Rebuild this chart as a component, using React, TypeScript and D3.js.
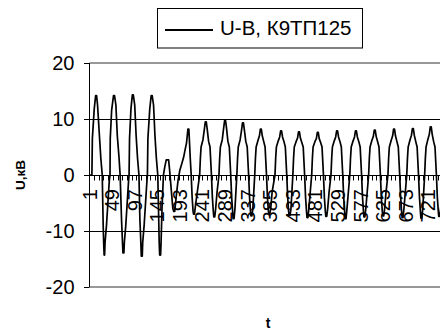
import React from "react";
import * as d3 from "d3";

// ---- data ----
const seriesName = "U-B, К9ТП125";
const yTitle = "U,кВ";
const xTitle = "t";
const nCategories = 760;
const yTicks = [20, 10, 0, -10, -20];
const xLabelCats = [1, 49, 97, 145, 193, 241, 289, 337, 385, 433, 481, 529, 577, 625, 673, 721];
const tickEvery = 10;

// key points of the waveform: [sample number, U in kV]
const waveform: [number, number][] = [
  [1, 0], [6, 0], [7, 6.5], [11, 11.8], [14, 14.2], [16, 14.2], [18, 12.5], [22, 7], [25, 3], [28, 0],
  [30, -9], [31, -12], [32, -14.3], [33, -14.3], [34, -12], [37, -9], [40, -5], [43, -1], [44.5, 0],
  [45, 6.5], [48, 11.6], [52, 14.2], [54, 14.2], [57, 12.5], [60, 7], [63.5, 3.3], [66, 0],
  [69, -8], [71, -12], [72, -13.9], [74, -13.9], [75, -12], [78, -9], [81, -5], [84, -1], [85, 0],
  [86, 6.5], [89, 11.8], [92, 14.3], [94, 14.3], [97, 12.5], [100, 7], [103, 3], [106, 0],
  [108, -8], [110, -12], [111, -14.5], [113, -14.5], [114, -12], [117, -9], [120, -5], [123, -1], [124, 0],
  [125, 6.5], [129, 11.8], [132, 14.2], [134, 14.2], [137, 12.5], [140, 7], [143, 3], [146, 0],
  [148, -8], [149, -12], [150, -14.3], [152, -14.3], [153, -12], [155, -6], [158, 0],
  [161, 1.5], [164, 2.7], [169, 2.7], [171, 1], [173, -1], [176, -4], [178, -6], [180, -6.5], [182, -6.5],
  [185, -4], [189, -1], [193, 0.9], [197, 2], [201, 3.2], [204, 4.5], [207, 5.7], [209, 7.3], [210, 8.2],
  [212, 8.2], [213, 6.5], [215, 3], [217, 0], [219, -4], [221, -6.5], [222, -7], [224, -7], [226, -5.5], [230, -3], [235, 0],
  [236.5, 3], [238, 5], [242, 6.3], [245, 8.2], [247, 9.5], [249, 9.5], [251, 8.2], [254, 6], [257, 5], [258.5, 2.5], [260, 0],
  [262, -4], [264, -6.5], [265, -7.5], [267, -7.5], [269, -6], [272, -3], [276, 0],
  [277.5, 3], [279, 5], [283, 6.3], [286, 8.4], [288, 9.7], [290, 9.7], [292, 8.4], [295, 6], [298, 5], [299.5, 2.5], [301, 0],
  [303, -4], [305, -6.5], [306, -7.8], [308, -7.8], [310, -6], [312, -3], [314, 0],
  [315.5, 3], [317, 5], [321, 6.3], [324, 8], [326, 9.3], [328, 9.3], [330, 8], [333, 6], [336, 5], [337.5, 2.5], [339, 0],
  [341, -4], [343, -6.5], [344, -7.3], [346, -7.3], [348, -6], [350, -3], [352, 0],
  [353.5, 3], [355, 5], [359, 6.2], [362, 7], [364, 8.2], [366, 8.2], [368, 7], [371, 6], [374, 5], [375.5, 2.5], [377, 0],
  [379, -4], [381, -6.5], [382, -7], [384, -7], [386, -6], [389, -3], [395, 0],
  [396.5, 3], [398, 5], [402, 6.1], [405, 6.8], [407, 7.9], [409, 7.9], [411, 6.8], [414, 6], [417, 5], [418.5, 2.5], [420, 0],
  [422, -4], [424, -6.5], [425, -7.2], [427, -7.2], [429, -6], [431, -3], [433, 0],
  [434.5, 3], [436, 5], [440, 6], [443, 6.6], [445, 7.7], [447, 7.7], [449, 6.6], [452, 5.8], [455, 5], [456.5, 2.5], [458, 0],
  [460, -4], [462, -6.5], [463, -7.6], [465, -7.6], [467, -6], [470, -3], [473, 0],
  [474.5, 3], [476, 5], [480, 6], [483, 6.5], [485, 7.6], [487, 7.6], [489, 6.5], [492, 5.8], [495, 5], [496.5, 2.5], [498, 0],
  [500, -4], [502, -6.5], [503, -7.4], [505, -7.4], [507, -6], [510, -3], [514, 0],
  [515.5, 3], [517, 5], [521, 6.1], [524, 6.8], [526, 7.9], [528, 7.9], [530, 6.8], [533, 6], [536, 5], [537.5, 2.5], [539, 0],
  [541, -4], [543, -6.5], [544, -7.8], [546, -7.8], [548, -6], [551, -3], [554, 0],
  [555.5, 3], [557, 5], [561, 6.1], [564, 6.8], [566, 7.9], [568, 7.9], [570, 6.8], [573, 6], [576, 5], [577.5, 2.5], [579, 0],
  [581, -4], [583, -6.5], [584, -7.5], [586, -7.5], [588, -6], [591, -3], [594, 0],
  [595.5, 3], [597, 5], [601, 6.2], [604, 6.9], [606, 8], [608, 8], [610, 6.9], [613, 6], [616, 5], [617.5, 2.5], [619, 0],
  [621, -4], [623, -6.5], [624, -7.3], [626, -7.3], [628, -6], [631, -3], [635, 0],
  [636.5, 3], [638, 5], [642, 6.2], [645, 7], [647, 8.2], [649, 8.2], [651, 7], [654, 6], [657, 5], [658.5, 2.5], [660, 0],
  [662, -4], [664, -6.5], [665, -7.6], [667, -7.6], [669, -6], [672, -3], [675, 0],
  [676.5, 3], [678, 5], [682, 6.3], [685, 7.1], [687, 8.3], [689, 8.3], [691, 7.1], [694, 6], [697, 5], [698.5, 2.5], [700, 0],
  [702, -4], [704, -6.5], [705, -7.7], [707, -7.7], [709, -6], [711, -3], [713, 0],
  [714.5, 3], [716, 5], [720, 6.4], [723, 7.3], [725, 8.6], [727, 8.6], [729, 7.3], [732, 6], [735, 5], [736.5, 2.5], [738, 0],
  [740, -4], [742, -6.5], [743, -7.4], [745, -7.4], [747, -6], [750, -3], [753, 0], [754.5, 3], [756, 5], [760, 6.3],
];

const W = 440;
const H = 332;
const FONT = "'Liberation Sans', Arial, Helvetica, sans-serif";

export default function App() {
  const plotLeft = 89.3;
  const plotRight = 447;
  const x = d3.scaleLinear().domain([0.5, nCategories + 0.5]).range([plotLeft, plotRight]);
  const y = d3.scaleLinear().domain([-20, 20]).range([287, 63]);
  const axisX = 89.5;

  const line = d3
    .line<[number, number]>()
    .x((d) => x(d[0]))
    .y((d) => y(d[1]));

  const zeroY = Math.round(y(0)) + 0.5;
  const tickPositions = d3.range(0, nCategories + 1, tickEvery).map((k) => x(k + 0.5));

  return (
    <svg
      width={W}
      height={H}
      viewBox={`0 0 ${W} ${H}`}
      style={{ position: "absolute", left: 0, top: 0, background: "#fff" }}
    >
      <rect x={0} y={0} width={W} height={H} fill="#fff" />
      {/* gridlines */}
      {yTicks
        .filter((v) => v !== 0)
        .map((v) => {
          const edge = Math.abs(v) === 20;
          const yy = edge ? Math.round(y(v)) : Math.round(y(v)) + 0.5;
          return (
            <line
              key={"g" + v}
              x1={axisX}
              x2={plotRight}
              y1={yy}
              y2={yy}
              stroke={edge ? "#333" : "#000"}
              strokeWidth={1}
            />
          );
        })}
      {/* value axis */}
      <line x1={axisX} x2={axisX} y1={y(20)} y2={y(-20)} stroke="#000" strokeWidth={1} />
      {yTicks.map((v) => {
        const yy = Math.round(y(v)) + 0.5;
        return (
          <g key={"yt" + v}>
            <line x1={84} x2={axisX} y1={yy} y2={yy} stroke="#000" strokeWidth={1} />
            <text
              x={74.5}
              y={y(v) + 7.2}
              textAnchor="end"
              fontFamily={FONT}
              fontSize={20}
              fill="#000"
            >
              {v}
            </text>
          </g>
        );
      })}
      {/* category axis */}
      <line x1={axisX} x2={plotRight} y1={zeroY} y2={zeroY} stroke="#000" strokeWidth={1} />
      {tickPositions.map((tx, i) => (
        <line
          key={"xt" + i}
          x1={Math.round(tx) + 0.5}
          x2={Math.round(tx) + 0.5}
          y1={zeroY}
          y2={zeroY + 5}
          stroke="#000"
          strokeWidth={1}
        />
      ))}
      {xLabelCats.map((c) => {
        const cx = x(c) + 7;
        const cy = 189;
        return (
          <text
            key={"xl" + c}
            transform={`translate(${cx},${cy}) rotate(-90)`}
            textAnchor="end"
            fontFamily={FONT}
            fontSize={20}
            fill="#000"
          >
            {c}
          </text>
        );
      })}
      {/* series */}
      <path
        d={line(waveform) || ""}
        fill="none"
        stroke="#000"
        strokeWidth={1.7}
        strokeLinejoin="round"
      />
      {/* axis titles */}
      <text
        transform={`translate(25,175) rotate(-90)`}
        textAnchor="middle"
        fontFamily={FONT}
        fontWeight="bold"
        fontSize={13.5}
        fill="#000"
      >
        {yTitle}
      </text>
      <text x={268} y={328} textAnchor="middle" fontFamily={FONT} fontWeight="bold" fontSize={14} fill="#000">
        {xTitle}
      </text>
      {/* legend */}
      <rect x={157.5} y={8.5} width={205} height={39.5} fill="#fff" stroke="#000" strokeWidth={1} />
      <line x1={165} x2={213} y1={30} y2={30} stroke="#000" strokeWidth={2} />
      <text x={220} y={35} fontFamily={FONT} fontSize={20.5} fill="#000">
        {seriesName}
      </text>
    </svg>
  );
}
